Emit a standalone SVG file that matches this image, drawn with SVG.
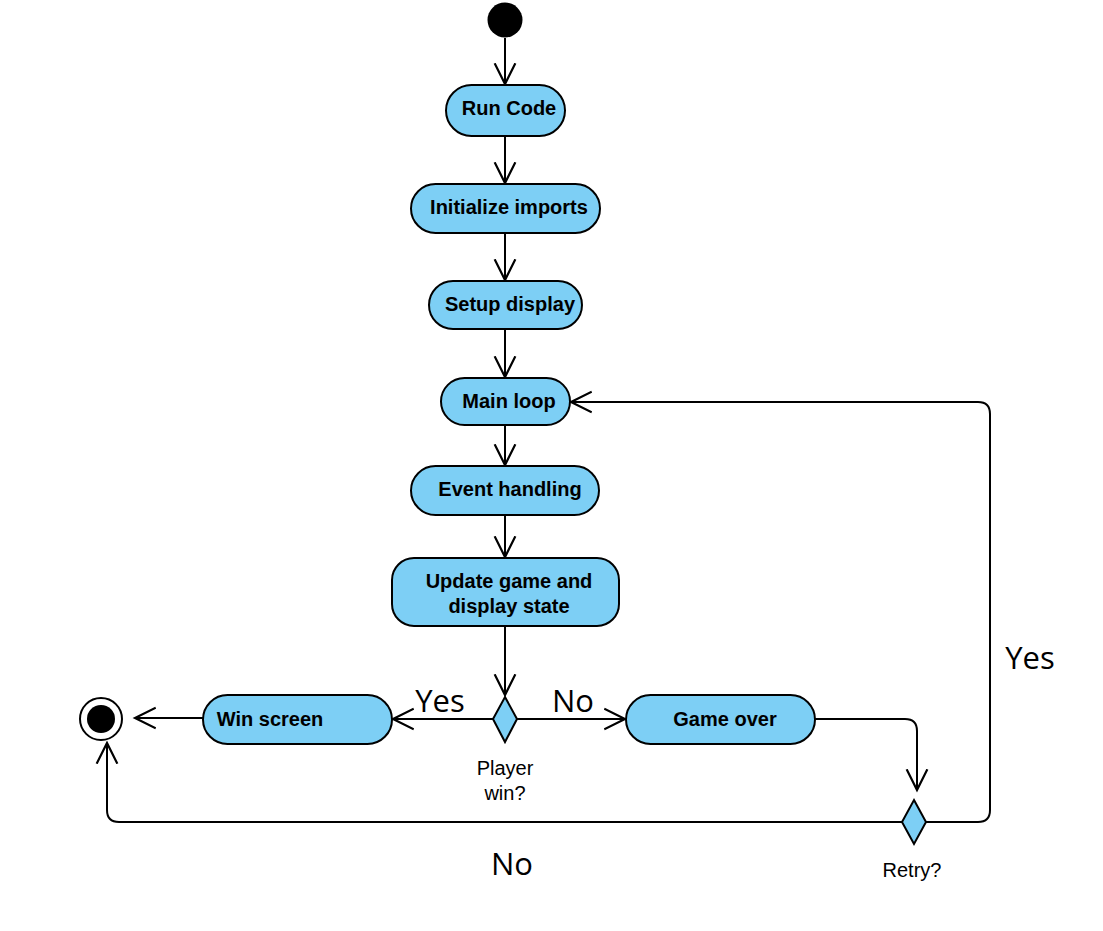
<svg xmlns="http://www.w3.org/2000/svg" width="1103" height="931" viewBox="0 0 1103 931">
  <style>
    .act { fill: #7dcff5; stroke: #000; stroke-width: 2; }
    .lbl { font-family: "Liberation Sans", Arial, sans-serif; font-weight: bold; font-size: 20px; fill: #000; text-anchor: middle; }
    .cap { font-family: "Liberation Sans", Arial, sans-serif; font-size: 20px; fill: #000; text-anchor: middle; }
    .guard { font-family: "Open Sans", "Noto Sans", sans-serif; font-size: 31px; fill: #000; text-anchor: middle; }
    .edge { fill: none; stroke: #000; stroke-width: 2; }
  </style>
  <defs>
    <!-- open V arrowhead for control flows -->
    <marker id="open" markerWidth="24" markerHeight="24" refX="19" refY="10" orient="auto" markerUnits="userSpaceOnUse" viewBox="0 0 22 20">
      <path d="M0,0.5 L19,10 L0,19.5" fill="none" stroke="#000" stroke-width="2"/>
    </marker>
  </defs>

  <rect width="1103" height="931" fill="#fff"/>

  <g id="connectors">
    <path class="edge" d="M505,38 V84" marker-end="url(#open)"/>
    <path class="edge" d="M505,136 V183" marker-end="url(#open)"/>
    <path class="edge" d="M505,233 V280" marker-end="url(#open)"/>
    <path class="edge" d="M505,329 V377" marker-end="url(#open)"/>
    <path class="edge" d="M505,425 V465" marker-end="url(#open)"/>
    <path class="edge" d="M505,515 V557" marker-end="url(#open)"/>
    <path class="edge" d="M505,626 V695" marker-end="url(#open)"/>
    <path class="edge" d="M493,719 H393" marker-end="url(#open)"/>
    <path class="edge" d="M517,719 H625" marker-end="url(#open)"/>
    <path class="edge" d="M203,718 H135" marker-end="url(#open)"/>
    <path class="edge" d="M815,719 H905 Q917,719 917,731 V790" marker-end="url(#open)"/>
    <path class="edge" d="M926,822 H978 Q990,822 990,810 V414 Q990,402 978,402 H571" marker-end="url(#open)"/>
    <path class="edge" d="M902,822 H119 Q107,822 107,810 V743" marker-end="url(#open)"/>
  </g>

  <g id="start">
    <circle cx="505" cy="20" r="17.5" fill="#000"/>
  </g>

  <g id="run-code">
    <rect class="act" x="446" y="85" width="119" height="51" rx="25.5"/>
    <text class="lbl" x="509" y="115">Run Code</text>
  </g>

  <g id="init-imports">
    <rect class="act" x="411" y="184" width="189" height="49" rx="24.5"/>
    <text class="lbl" x="509" y="214">Initialize imports</text>
  </g>

  <g id="setup-display">
    <rect class="act" x="429" y="281" width="153" height="48" rx="24"/>
    <text class="lbl" x="510" y="311">Setup display</text>
  </g>

  <g id="main-loop">
    <rect class="act" x="441" y="378" width="129" height="47" rx="23.5"/>
    <text class="lbl" x="509" y="408">Main loop</text>
  </g>

  <g id="event-handling">
    <rect class="act" x="411" y="466" width="188" height="49" rx="24.5"/>
    <text class="lbl" x="510" y="496">Event handling</text>
  </g>

  <g id="update-state">
    <rect class="act" x="392" y="558" width="227" height="68" rx="22"/>
    <text class="lbl" x="509" y="588">Update game and</text>
    <text class="lbl" x="509" y="613">display state</text>
  </g>

  <g id="player-win">
    <polygon class="act" points="505,697 517,719 505,742 493,719"/>
    <text class="cap" x="505" y="775">Player</text>
    <text class="cap" x="505" y="800">win?</text>
  </g>

  <g id="win-screen">
    <rect class="act" x="203" y="695" width="189" height="49" rx="24.5"/>
    <text class="lbl" x="270" y="726">Win screen</text>
  </g>

  <g id="game-over">
    <rect class="act" x="626" y="695" width="189" height="49" rx="24.5"/>
    <text class="lbl" x="725" y="726">Game over</text>
  </g>

  <g id="end">
    <circle cx="101" cy="719" r="21" fill="#fff" stroke="#000" stroke-width="2"/>
    <circle cx="101" cy="719" r="14" fill="#000"/>
  </g>

  <g id="retry">
    <polygon class="act" points="914,800 926,822 914,844 902,822"/>
    <text class="cap" x="912" y="877">Retry?</text>
  </g>

  <g id="guards">
    <text class="guard" x="440" y="712">Yes</text>
    <text class="guard" x="573" y="712">No</text>
    <text class="guard" x="1030" y="669">Yes</text>
    <text class="guard" x="512" y="875">No</text>
  </g>
</svg>
